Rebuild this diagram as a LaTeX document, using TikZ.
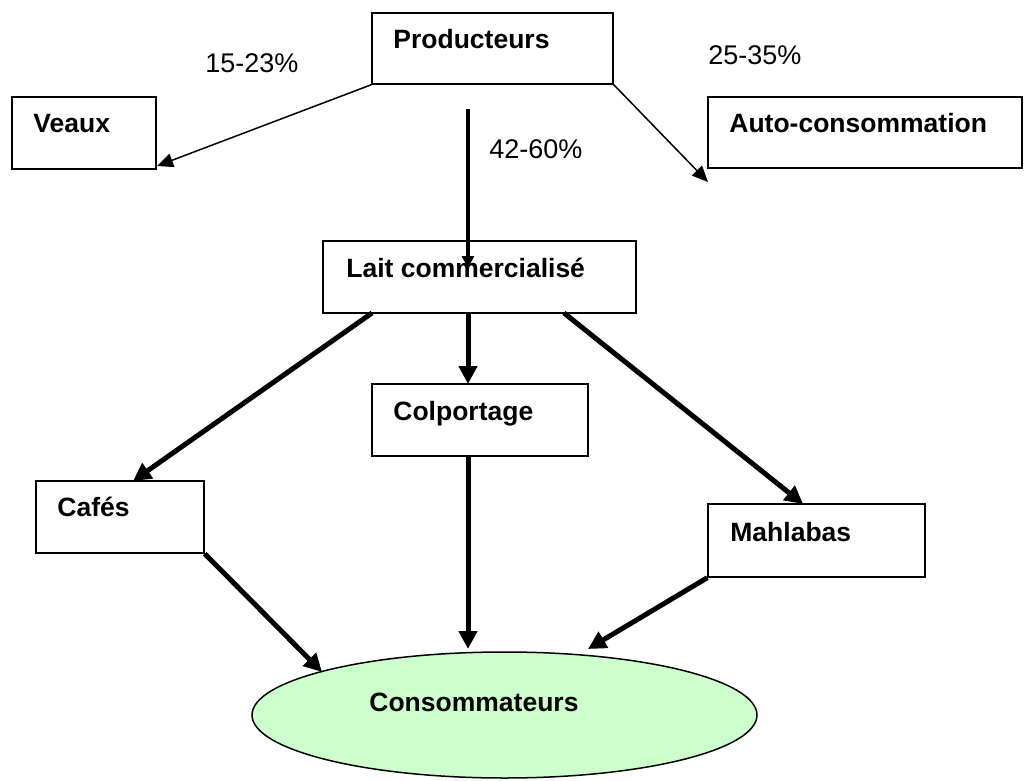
\documentclass[tikz,border=0pt]{standalone}
\usepackage{fontspec}
\setmainfont{Liberation Sans}
\usetikzlibrary{arrows.meta,shapes.geometric}
\definecolor{ellfill}{HTML}{CCFFCC}
\begin{document}
\begin{tikzpicture}[x=0.5pt,y=-0.5pt,
  box/.style={draw,line width=0.75pt,rectangle,inner sep=0pt},
  lbl/.style={anchor=base west,inner sep=0pt,font=\fontsize{13.25}{16}\selectfont\bfseries},
  pct/.style={anchor=base west,inner sep=0pt,font=\fontsize{13.5}{16}\selectfont},
  thinarr/.style={line width=0.75pt,-{Triangle[length=8pt,width=7pt]}},
  midarr/.style={line width=2pt,-{Triangle[length=6pt,width=6pt]}},
  thickarr/.style={line width=2.5pt,-{Triangle[length=9pt,width=9pt]}}]
\useasboundingbox (0,0) rectangle (1034,781);
% boxes
\node[box,minimum width=120.5pt,minimum height=35.5pt] (prod) at (492.5,48.5) {};
\node[box,minimum width=72pt,minimum height=36pt] (veaux) at (84,133) {};
\node[box,minimum width=157pt,minimum height=35.5pt] (auto) at (865,132.5) {};
\node[box,minimum width=156.5pt,minimum height=36pt] (lait) at (479.5,277) {};
\node[box,minimum width=108pt,minimum height=36pt] (colp) at (480,420) {};
\node[box,minimum width=84pt,minimum height=36pt] (cafes) at (120,517) {};
\node[box,minimum width=108.5pt,minimum height=36.5pt] (mahl) at (816.5,540.5) {};
\node[draw,line width=0.75pt,ellipse,fill=ellfill,minimum width=252.5pt,minimum height=63pt,inner sep=0pt] (cons) at (504.5,715) {};
% texts
\node[lbl] (tprod) at (393,49) {Producteurs};
\node[lbl] (tveaux) at (33,133) {Veaux};
\node[lbl] (tauto) at (729,133) {Auto-consommation};
\node[lbl] (tlait) at (346,277) {Lait commercialisé};
\node[lbl] (tcolp) at (393,420) {Colportage};
\node[lbl] (tcafes) at (57,516) {Cafés};
\node[lbl] (tmahl) at (730,541) {Mahlabas};
\node[lbl] (tcons) at (369,711) {Consommateurs};
\node[pct] (p1) at (205,73) {15-23\%};
\node[pct] (p2) at (708,65) {25-35\%};
\node[pct] (p3) at (489,159) {42-60\%};
% free-end coordinates
\coordinate (vtop) at (468,109);
\coordinate (vend) at (468,268);
\coordinate (autotip) at (708,182);
\coordinate (veauxtip) at (157,166);
\coordinate (l1) at (372,313);
\coordinate (l2) at (468,313);
\coordinate (l3) at (564,313);
\coordinate (cafestip) at (133,481);
\coordinate (colptip) at (468,384);
\coordinate (mahltip) at (803,504);
\coordinate (c2) at (468,456);
\coordinate (e1) at (322,672);
\coordinate (e2) at (468,649);
\coordinate (e3) at (588,649);
% connectors
\draw[thinarr] (prod.south west) -- (veauxtip);
\draw[thinarr] (prod.south east) -- (autotip);
\draw[midarr] (vtop) -- (vend);
\draw[thickarr] (l1) -- (cafestip);
\draw[thickarr] (l2) -- (colptip);
\draw[thickarr] (l3) -- (mahltip);
\draw[thickarr] (c2) -- (e2);
\draw[thickarr] (cafes.south east) -- (e1);
\draw[thickarr] (mahl.south west) -- (e3);
\end{tikzpicture}
\end{document}
